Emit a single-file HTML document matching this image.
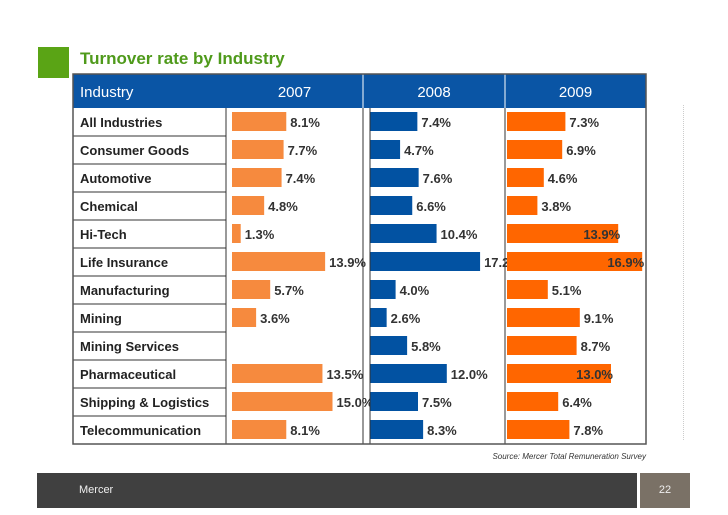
<!DOCTYPE html>
<html><head><meta charset="utf-8"><style>
body{margin:0;background:#fff;font-family:"Liberation Sans",Arial,sans-serif}
#w{position:relative;width:728px;height:515px;overflow:hidden}
.a{position:absolute}
</style></head><body>
<div id="w">
<div class="a" style="left:38px;top:47px;width:31px;height:31px;background:#5aa415"></div>
<div class="a" style="left:80px;top:49px;font-size:17px;font-weight:bold;color:#4f9a1b">Turnover rate by Industry</div>
<div class="a" style="left:683px;top:105px;height:335px;border-left:1px dotted #ccc"></div>
<svg class="a" style="left:0;top:0" width="728" height="515" id="chart"></svg>
<div class="a" style="left:420px;top:452px;width:226px;text-align:right;font-size:8px;font-style:italic;color:#333">Source: Mercer Total Remuneration Survey</div>
<div class="a" style="left:37px;top:473px;width:600px;height:35px;background:#404040"></div>
<div class="a" style="left:79px;top:484px;font-size:11px;color:#eee">Mercer</div>
<div class="a" style="left:640px;top:473px;width:50px;height:35px;background:#7a7166;color:#eee;font-size:11px;line-height:35px;text-align:center">22</div>
</div>
<script>
const industries=["All Industries","Consumer Goods","Automotive","Chemical","Hi-Tech","Life Insurance","Manufacturing","Mining","Mining Services","Pharmaceutical","Shipping & Logistics","Telecommunication"];
const years=["2007","2008","2009"];
const v2007=[8.1,7.7,7.4,4.8,1.3,13.9,5.7,3.6,null,13.5,15.0,8.1];
const v2008=[7.4,4.7,7.6,6.6,10.4,17.2,4.0,2.6,5.8,12.0,7.5,8.3];
const v2009=[7.3,6.9,4.6,3.8,13.9,16.9,5.1,9.1,8.7,13.0,6.4,7.8];
const NS="http://www.w3.org/2000/svg",svg=document.getElementById('chart');
function mk(t,at,txt){const e=document.createElementNS(NS,t);for(const k in at)e.setAttribute(k,at[k]);if(txt!=null)e.textContent=txt;svg.appendChild(e);return e;}
const L=73,R=646,HT=74,HB=108,RH=28;
const cols=[{x0:226,x1:363,bx:232,s:6.7,c:"#f68a3e",d:v2007},{x0:363,x1:505,bx:370,s:6.4,c:"#0252a2",d:v2008},{x0:505,x1:646,bx:507,s:8.0,c:"#ff6600",d:v2009}];
let e=mk('rect',{x:L,y:HT,width:R-L,height:HB-HT,fill:"#0a55a5"});

e=mk('text',{x:80,y:97,fill:"#fff","font-size":15},"Industry");

years.forEach((y,i)=>{const c=cols[i];
 e=mk('text',{x:(c.x0+c.x1)/2,y:97,fill:"#fff","font-size":15,"text-anchor":"middle"},y);
 
 if(i>0){e=mk('line',{x1:c.x0,y1:HT,x2:c.x0,y2:HB,stroke:"#fff","stroke-width":1});}
});
const bottom=HB+RH*industries.length;
industries.forEach((n,r)=>{const y=HB+r*RH;
 e=mk('text',{x:80,y:y+19,fill:"#222","font-size":13,"font-weight":"bold"},n);
 
 if(r>0){e=mk('line',{x1:L,y1:y,x2:226,y2:y,stroke:"#333","stroke-width":1});}
 cols.forEach((c,i)=>{const v=c.d[r];if(v==null)return;const w=v*c.s;
  e=mk('rect',{x:c.bx,y:y+4,width:w,height:19,fill:c.c});
  
  const inside=i==2&&v>=13;
  e=mk('text',{x:inside?c.bx+w+2:c.bx+w+4,y:y+19,fill:"#333","font-size":13,"font-weight":"bold","text-anchor":inside?"end":"start"},v.toFixed(1)+"%");
  
 });
});
[226,363,370,505].forEach(x=>{e=mk('line',{x1:x,y1:HB,x2:x,y2:bottom,stroke:"#333","stroke-width":1});});
e=mk('rect',{x:L,y:HT,width:R-L,height:bottom-HT,fill:"none",stroke:"#555","stroke-width":1.5});

</script>
</body></html>
